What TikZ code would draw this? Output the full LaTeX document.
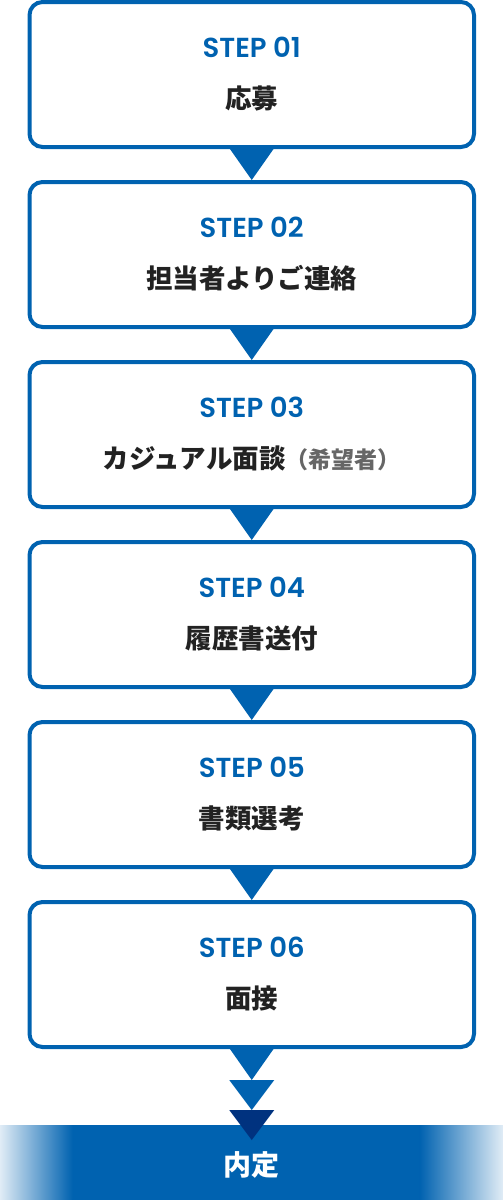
\documentclass[tikz,border=0pt]{standalone}
\usepackage{fontspec}
\newfontfamily\jp{Noto Sans CJK JP}
\newfontfamily\stepfont{Poppins}[UprightFont=* SemiBold]
\usetikzlibrary{calc}
\definecolor{mainblue}{HTML}{0062B0}
\definecolor{navy}{HTML}{00327F}
\definecolor{ink}{HTML}{222222}
\definecolor{subgray}{HTML}{666666}
\begin{document}
\begin{tikzpicture}[x=1pt,y=-1pt,
  stepbox/.style={draw=mainblue, line width=4pt, rounded corners=13pt, fill=white,
    minimum width=444.5pt, minimum height=145pt, inner sep=0pt},
  stepno/.style={text=mainblue, font=\stepfont\fontsize{27.5}{32}\selectfont, inner sep=0pt},
  steptitle/.style={text=ink, font=\jp\bfseries\fontsize{26.5}{30}\selectfont, inner sep=0pt},
  tri/.style={fill=mainblue},
  goaltri/.style={fill=navy},
  goaltext/.style={text=white, font=\jp\bfseries\fontsize{28}{32}\selectfont, inner sep=0pt}]
\useasboundingbox (0,0) rectangle (503,1200);

\foreach \k/\n/\t in {1/01/応募, 2/02/担当者よりご連絡, 3/03/{カジュアル面談{\color{subgray}\fontsize{23}{26}\selectfont （希望者）}}, 4/04/履歴書送付, 5/05/書類選考, 6/06/面接}{
  \node[stepbox] (s\k) at (251.75, {180*(\k-1)+74.5}) {};
  \node[stepno] (n\k) at ($(s\k.north)+(0,47)$) {STEP \n};
  \node[steptitle] (t\k) at ($(s\k.north)+(0,98)$) {\t};
}

% connectors between steps
\foreach \a/\b in {1/2,2/3,3/4,4/5,5/6}{
  \fill[tri] ($(s\a.south)+(-22.5,-1)$) -- ($(s\a.south)+(22.5,-1)$) -- (s\b.north) -- cycle;
}

% final chain
\coordinate (c1) at ($(s6.south)+(0,31)$);
\coordinate (c2) at ($(c1)+(0,30)$);
\coordinate (c3) at ($(c2)+(0,30)$);
\fill[tri] ($(s6.south)+(-22.5,-1)$) -- ($(s6.south)+(22.5,-1)$) -- (c1) -- cycle;
\fill[tri] ($(c1)+(-22.5,0)$) -- ($(c1)+(22.5,0)$) -- (c2) -- cycle;

% goal band
\fill[mainblue] (72,1125) rectangle (420,1200);
\shade[left color=mainblue!12, right color=mainblue] (0,1125) rectangle (72.5,1200);
\shade[left color=mainblue, right color=mainblue!12] (419.5,1125) rectangle (503,1200);
\fill[goaltri] ($(c2)+(-22.5,0)$) -- ($(c2)+(22.5,0)$) -- (c3) -- cycle;
\node[goaltext] (goal) at (251.75,1165) {内定};
\end{tikzpicture}
\end{document}
